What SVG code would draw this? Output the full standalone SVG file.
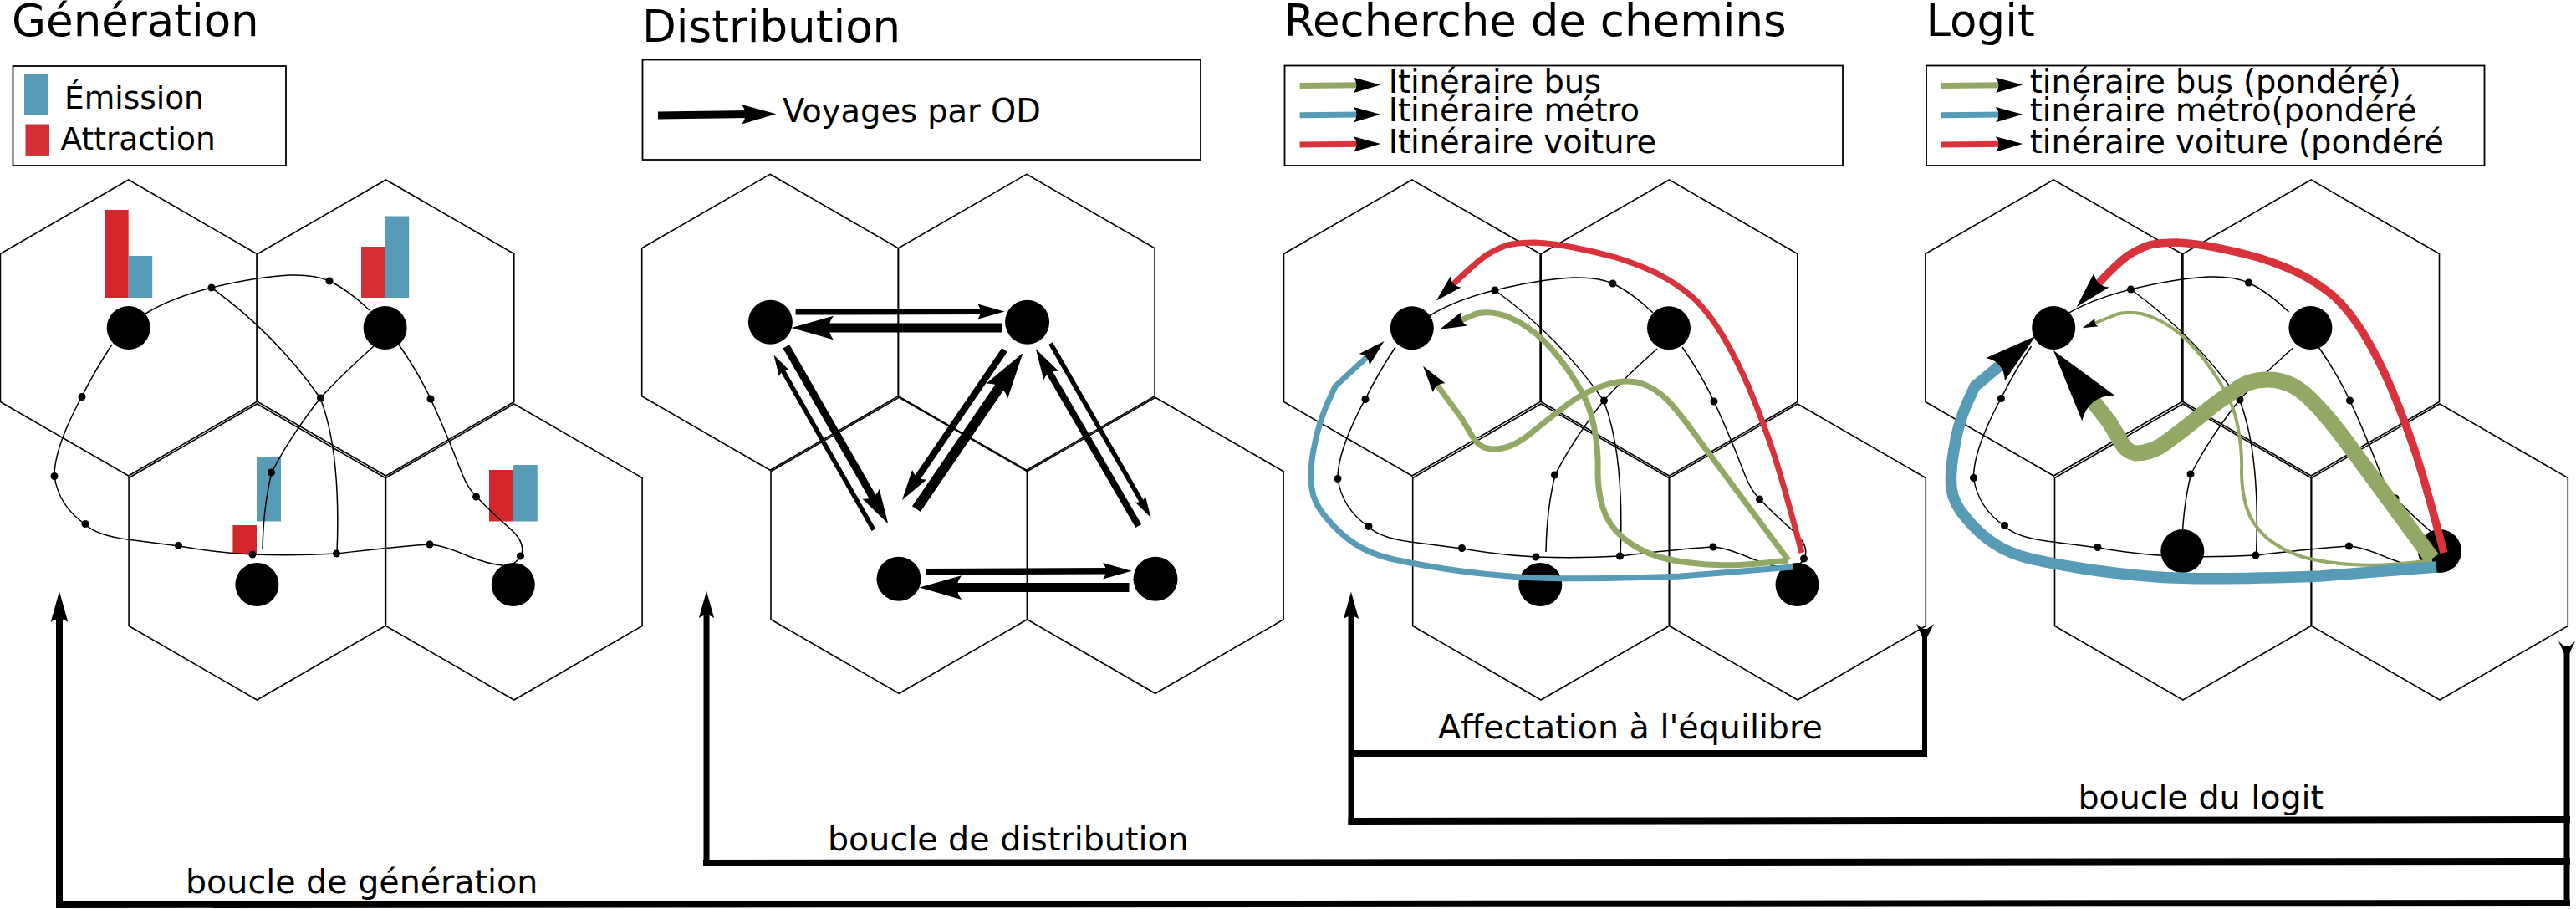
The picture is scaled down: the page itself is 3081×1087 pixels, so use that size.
<svg xmlns="http://www.w3.org/2000/svg" width="3081" height="1087" viewBox="0 0 3081 1087">
<style>
text{font-family:"DejaVu Sans",sans-serif;fill:#000}
.t{font-size:53px}
.l{font-size:37.5px}
.m{font-size:38.4px}
.b{font-size:39.6px}
.hex{fill:none;stroke:#000;stroke-width:1.6}
.box{fill:none;stroke:#000;stroke-width:1.8}
.n{fill:#000}
.w{fill:none;stroke:#000;stroke-width:1.5}
.a{fill:none;stroke:#000;marker-end:url(#ah);stroke-linejoin:round}
.k{fill:none;stroke:#000}
.r{fill:none;stroke-linejoin:round;marker-end:url(#ah)}
.gr{stroke:#92a864}.bl{stroke:#589bb6}.rd{stroke:#d8323a}
.fb{fill:#589bb6}.fr{fill:#d5262c}.fr2{fill:#d53037}
</style>
<defs>
<marker id="ah" markerUnits="strokeWidth" orient="auto" markerWidth="5" markerHeight="3" overflow="visible"><path d="M-1-1.3L3.6 0L-1 1.3Q0 0-1-1.3Z" fill="#000"/></marker>
<polygon id="hx" points="0,-177 153.3,-88.5 153.3,88.5 0,177 -153.3,88.5 -153.3,-88.5" class="hex"/>
<g id="net">
<path class="w" d="M174 375Q205 356 253 344Q307 331 346 329Q376 328 394 336Q417 347 442 371"/>
<path class="w" d="M134 412Q114 442 98 474Q65 535 65 569Q70 605 102 627Q115 640 152 645L214 653Q260 661 302 663Q350 665 403 662Q470 654 514 651Q530 652 560 665Q585 675 602 676"/>
<path class="w" d="M253 344Q330 400 383 476Q408 540 403 662"/>
<path class="w" d="M447 414Q410 447 383 476Q345 525 325 565Q315 605 314 657"/>
<path class="w" d="M477 412Q500 445 515 477Q535 520 552 565Q560 585 570 594Q590 615 610 632Q630 650 623 665Q620 670 614 674"/>
<g class="n"><circle cx="253" cy="344" r="4.5"/><circle cx="394" cy="336" r="4.5"/><circle cx="98" cy="474.5" r="4.5"/><circle cx="383.5" cy="476" r="4.5"/><circle cx="515" cy="477" r="4.5"/><circle cx="65" cy="569.5" r="4.5"/><circle cx="324.5" cy="565" r="4.5"/><circle cx="569.5" cy="594" r="4.5"/><circle cx="102" cy="626.5" r="4.5"/><circle cx="213.5" cy="652.5" r="4.5"/><circle cx="302" cy="663" r="4.5"/><circle cx="402.5" cy="662" r="4.5"/><circle cx="514" cy="651" r="4.5"/><circle cx="622.5" cy="665" r="4.5"/></g>
</g>
</defs>
<rect width="3081" height="1087" fill="#fff"/>

<g id="generation">
<text class="t" x="14" y="43">Génération</text>
<g id="gen-legend"><rect class="box" x="15.5" y="79" width="326.5" height="119"/><rect class="fb" x="29" y="88" width="28.5" height="50"/><rect class="fr2" x="30.5" y="148.5" width="28.5" height="38.5"/><text class="l" x="77" y="130">Émission</text><text class="l" x="72.5" y="179">Attraction</text></g>
<g id="gen-z1"><use href="#hx" x="153.7" y="392"/><rect class="fr" x="125.2" y="251" width="28.5" height="105"/><rect class="fb" x="153.7" y="306" width="28.5" height="50"/></g>
<g id="gen-z2"><use href="#hx" x="461.5" y="392"/><rect class="fr2" x="432" y="295" width="28.6" height="61"/><rect class="fb" x="460.6" y="258.5" width="28.6" height="97.5"/></g>
<g id="gen-z3"><use href="#hx" x="307.4" y="660"/><rect class="fb" x="307" y="547" width="29" height="76.5"/><rect class="fr" x="278.4" y="628" width="28.6" height="35"/></g>
<g id="gen-z4"><use href="#hx" x="614.8" y="660"/><rect class="fr" x="585" y="562" width="28.8" height="61.5"/><rect class="fb" x="613.8" y="556" width="28.9" height="67.5"/></g>
<use href="#net"/>
<g class="n"><circle id="gen-n1" cx="153.7" cy="392" r="26"/><circle id="gen-n2" cx="460.6" cy="392" r="26"/><circle id="gen-n3" cx="307.4" cy="699" r="26"/><circle id="gen-n4" cx="613.8" cy="699" r="26"/></g>
</g>

<g id="distribution">
<text class="t" x="768" y="49.5">Distribution</text>
<g id="dist-legend"><rect class="box" x="768.5" y="71.5" width="667.5" height="119.5"/><path class="a" stroke-width="9" d="M787 138L896 136.6"/><text class="m" x="936" y="146">Voyages par OD</text></g>
<g id="dist-z1"><use href="#hx" x="921" y="385.3"/></g>
<g id="dist-z2"><use href="#hx" x="1227.8" y="385.3"/></g>
<g id="dist-z3"><use href="#hx" x="1075.3" y="652.3"/></g>
<g id="dist-z4"><use href="#hx" x="1381.8" y="652.3"/></g>
<g class="n"><circle id="dist-n1" cx="921.4" cy="385.2" r="26.5"/><circle id="dist-n2" cx="1228.6" cy="385.2" r="26.5"/><circle id="dist-n3" cx="1075" cy="692.3" r="26.5"/><circle id="dist-n4" cx="1382" cy="692.3" r="26.5"/></g>
<g id="dist-arrows">
<path class="a" stroke-width="7" d="M951.6 373L1176.3 372.6"/>
<path class="a" stroke-width="11" d="M1199 392L986 392"/>
<path class="a" stroke-width="9" d="M940.3 414.3L1046.1 598.4"/>
<path class="a" stroke-width="5.5" d="M1044.9 633.7L935.3 441.7"/>
<path class="a" stroke-width="8" d="M1201.5 418.4L1095.2 574.2"/>
<path class="a" stroke-width="12" d="M1095.9 608.7L1199.1 457.7"/>
<path class="a" stroke-width="5.5" d="M1256.6 410.7L1366.6 601.8"/>
<path class="a" stroke-width="8" d="M1361.7 629.1L1253.3 442.2"/>
<path class="a" stroke-width="7.5" d="M1107.1 683.7L1326.6 682.8"/>
<path class="a" stroke-width="11" d="M1350.5 702.6L1139.1 702.6"/>
</g>
</g>

<g id="chemins">
<text class="t" x="1535.5" y="43.4">Recherche de chemins</text>
<g id="ch-legend"><rect class="box" x="1536.5" y="78.5" width="667.5" height="119.5"/>
<path class="r gr" stroke-width="7" d="M1554.6 102.6L1626 101.8"/><path class="r bl" stroke-width="7" d="M1554.6 137.8L1626 137"/><path class="r rd" stroke-width="7" d="M1554.6 173L1626 172.2"/>
<text class="m" x="1660.7" y="110.7">Itinéraire bus</text><text class="m" x="1660.7" y="145.4">Itinéraire métro</text><text class="m" x="1660.7" y="182.7">Itinéraire voiture</text></g>
<g id="ch-z1"><use href="#hx" x="1688.8" y="392"/></g>
<g id="ch-z2"><use href="#hx" x="1996.5" y="392"/></g>
<g id="ch-z3"><use href="#hx" x="1843" y="660"/></g>
<g id="ch-z4"><use href="#hx" x="2150" y="660"/></g>
<use href="#net" x="1535" y="3"/>
<g class="n"><circle id="ch-n1" cx="1688.8" cy="392.3" r="26"/><circle id="ch-n2" cx="1996" cy="392.3" r="26"/><circle id="ch-n3" cx="1842.3" cy="699" r="26"/><circle id="ch-n4" cx="2149.5" cy="699" r="26"/></g>
<g id="ch-routes">
<path class="r rd" stroke-width="7" d="M2155 661Q2133 577 2120 538Q2107 500 2092 464Q2077 429 2059 399Q2041 370 2023 354Q2005 339 1982 327Q1959 316 1933 308Q1908 301 1882 296Q1857 291 1836 290Q1816 290 1803 293Q1791 297 1778 305Q1765 314 1736 342"/>
<path class="r gr" stroke-width="7" d="M2139 670Q2077 678 2043 675Q2010 673 1984 666Q1959 658 1941 643Q1923 627 1917 607Q1911 587 1911 564Q1912 541 1907 513Q1903 485 1885 457Q1867 428 1847 408Q1826 388 1806 380Q1786 371 1766 375L1745 384"/>
<path class="r gr" stroke-width="7" d="M2139 670L2035 530Q2010 495 1995 479Q1980 464 1962 458Q1944 453 1921 460Q1898 467 1877 482Q1857 497 1836 514Q1816 531 1801 535Q1786 539 1775 535Q1765 531 1757 515L1748 500L1717 458"/>
<path class="r bl" stroke-width="7" d="M2145 678L2010 689Q1872 694 1818 690Q1765 686 1727 680Q1689 674 1663 668Q1638 662 1620 650Q1602 638 1587 620Q1571 602 1569 584Q1566 566 1571 538Q1576 510 1586 486L1597 462L1637 425"/>
</g>
</g>

<g id="logit">
<text class="t" x="2303.5" y="43.4">Logit</text>
<g id="lg-legend"><rect class="box" x="2304" y="78.5" width="667.5" height="119.5"/>
<path class="r gr" stroke-width="7" d="M2322 102.6L2394 101.8"/><path class="r bl" stroke-width="7" d="M2322 137.8L2394 137"/><path class="r rd" stroke-width="7" d="M2322 173L2394 172.2"/>
<text class="m" x="2427.7" y="110.7">tinéraire bus (pondéré)</text><text class="m" x="2427.7" y="145.4">tinéraire métro(pondéré</text><text class="m" x="2427.7" y="182.7">tinéraire voiture (pondéré</text></g>
<g id="lg-z1"><use href="#hx" x="2456.2" y="392"/></g>
<g id="lg-z2"><use href="#hx" x="2764.2" y="392"/></g>
<g id="lg-z3"><use href="#hx" x="2610.8" y="660"/></g>
<g id="lg-z4"><use href="#hx" x="2918" y="660"/></g>
<use href="#net" x="2295.5" y="2"/>
<g class="n"><circle id="lg-n1" cx="2456.2" cy="392" r="26"/><circle id="lg-n2" cx="2763.4" cy="392" r="26"/><circle id="lg-n3" cx="2610.3" cy="659" r="26"/><circle id="lg-n4" cx="2918" cy="659" r="26"/></g>
<g id="lg-routes">
<path class="r rd" stroke-width="9.5" d="M2923 661Q2901 577 2888 538Q2875 500 2860 464Q2845 429 2827 399Q2809 370 2791 354Q2773 339 2750 327Q2727 316 2701 308Q2676 301 2650 296Q2625 291 2604 290Q2584 290 2571 293Q2559 297 2546 305Q2533 314 2507 342"/>
<path class="r gr" stroke-width="4" d="M2909 670Q2847 678 2813 675Q2780 673 2754 666Q2729 658 2711 643Q2693 627 2687 607Q2681 587 2681 564Q2682 541 2677 513Q2673 485 2655 457Q2637 428 2617 408Q2596 388 2576 380Q2556 371 2534 375L2504 387"/>
<path class="r bl" stroke-width="13.5" d="M2914 678L2775 689Q2635 694 2581 690Q2530 686 2492 680Q2454 674 2428 668Q2403 662 2385 650Q2367 638 2352 620Q2336 602 2334 584Q2332 566 2337 538Q2341 510 2351 486L2362 462L2397 433"/>
<path class="r gr" stroke-width="19" d="M2909 668L2815 540Q2785 498 2761 475Q2740 455 2715 454Q2690 453 2673 467Q2652 480 2632 497Q2610 515 2585 533Q2570 542 2554 542Q2542 540 2535 525L2523 505L2498 473"/>
</g>
</g>

<g id="loops">
<path class="k" stroke-width="8" d="M3074 1080L67 1082"/>
<path class="a" stroke-width="8" d="M71 1086L71 736"/>
<path class="k" stroke-width="8" d="M3074 1030L841 1032"/>
<path class="a" stroke-width="7" d="M845 1036L845 732"/>
<path class="k" stroke-width="8" d="M3074 980L1612.5 982"/>
<path class="a" stroke-width="7" d="M1616 986L1616 733"/>
<path class="k" stroke-width="8" d="M2305 901L1616 901"/>
<path class="k" stroke-width="6" d="M2302 752L2302 905"/>
<polygon points="2292,746 2302,768 2313,746 2302,754"/>
<path class="k" stroke-width="7" d="M3070 772L3070 1084"/>
<polygon points="3060,767 3070,788 3080,767 3070,775"/>
<text class="b" x="222" y="1067.7">boucle de génération</text>
<text class="b" x="990" y="1017.3">boucle de distribution</text>
<text class="b" x="1720" y="882.7">Affectation à l'équilibre</text>
<text class="b" x="2485.4" y="967.3">boucle du logit</text>
</g>
</svg>
